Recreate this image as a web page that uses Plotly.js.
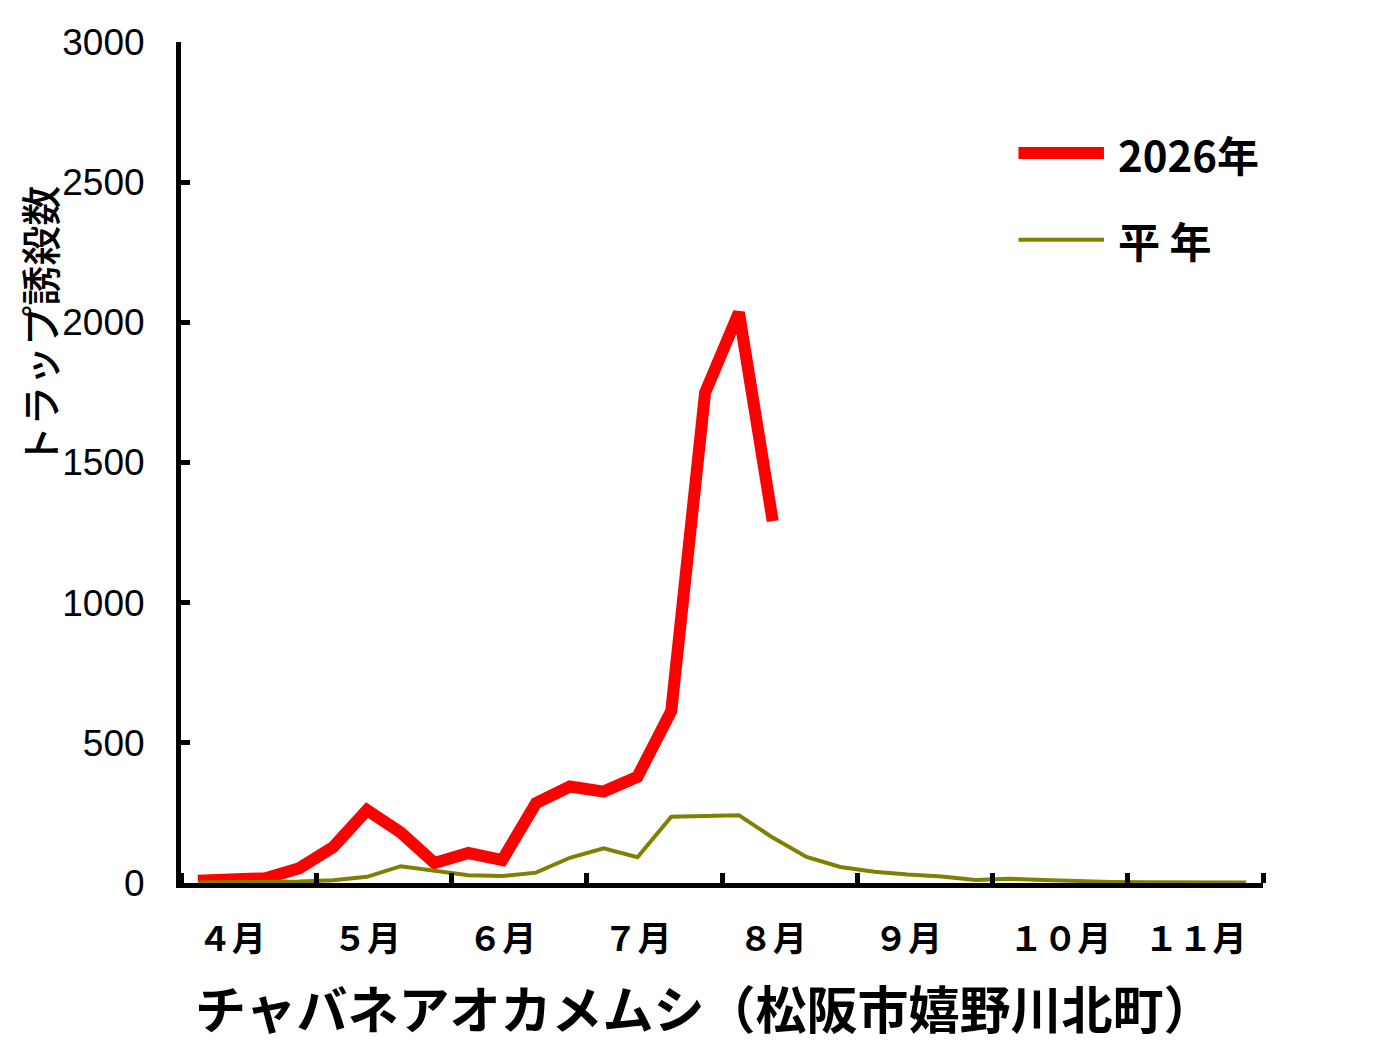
<!DOCTYPE html>
<html>
<head>
<meta charset="utf-8">
<script src="https://cdn.plot.ly/plotly-3.0.1.min.js"></script>
<style>
  html, body { margin: 0; padding: 0; background: #fff; }
  #chart1 { width: 1378px; height: 1064px; }
</style>
</head>
<body>
<div id="chart1"></div>
<script>
// 4 points per month, April .. November
var weeks = [0, 1, 2, 3, 4, 5, 6, 7, 8, 9, 10, 11, 12, 13, 14, 15,
             16, 17, 18, 19, 20, 21, 22, 23, 24, 25, 26, 27, 28, 29, 30, 31];
var monthPos = [1.5, 5.5, 9.5, 13.5, 17.5, 21.5, 25.5, 29.5];
var monthLabels = ["４月\u3000", "５月\u3000", "６月\u3000", "７月\u3000", "８月\u3000", "９月\u3000", "１０月", "１１月"];

var count2026 = [8, 11, 17, 53, 128, 260, 180, 71, 107, 82, 285, 344, 326, 379, 614, 1749, 2035, 1291];
var countAvg = [2, 3, 4, 5, 10, 22, 60, 44, 28, 25, 37, 90, 124, 92, 236, 239,
                242, 162, 93, 57, 40, 30, 23, 11, 15, 11, 7, 4, 3, 3, 3, 2];

var seriesNames = ["2026年", "平年"];
var seriesColors = ["#ff0000", "#808000"];

var jp = "Noto Sans CJK JP, sans-serif";

var chartData = [{
    x: weeks.slice(0, count2026.length),
    y: count2026,
    name: seriesNames[0],
    mode: "lines",
    line: {color: seriesColors[0], width: 12}
}, {
    x: weeks,
    y: countAvg,
    name: seriesNames[1],
    mode: "lines",
    line: {color: seriesColors[1], width: 4}
}];

var chartLayout = {
    width: 1378,
    height: 1064,
    margin: {l: 181, r: 115, t: 42, b: 181},
    paper_bgcolor: "#fff",
    plot_bgcolor: "#fff",
    showlegend: false,
    xaxis: {
        range: [-0.5, 31.5],
        tickmode: "array",
        tickvals: monthPos,
        ticktext: monthLabels,
        ticks: "",
        showgrid: false,
        zeroline: false,
        showline: true,
        linecolor: "#000",
        linewidth: 5,
        ticklabelstandoff: 22,
        tickfont: {family: jp, size: 34, color: "#000", weight: "bold"},
        minor: {
            tick0: -0.5,
            dtick: 4,
            ticks: "inside",
            ticklen: 10,
            tickwidth: 5,
            tickcolor: "#000",
            showgrid: false
        }
    },
    yaxis: {
        range: [0, 3000],
        dtick: 500,
        ticks: "inside",
        ticklen: 9,
        tickwidth: 5,
        tickcolor: "#000",
        showgrid: false,
        zeroline: false,
        showline: true,
        linecolor: "#000",
        linewidth: 5,
        ticklabelstandoff: 24,
        tickfont: {family: "Liberation Sans, Arial, sans-serif", size: 37, color: "#000"}
    },
    annotations: [{
        text: "チャバネアオカメムシ（松阪市嬉野川北町）",
        xref: "paper", yref: "paper",
        x: 0.484, y: -0.147,
        xanchor: "center", yanchor: "middle",
        showarrow: false,
        font: {family: jp, size: 51, color: "#000", weight: "bold"}
    }, {
        text: "トラップ誘殺数",
        textangle: -90,
        xref: "paper", yref: "paper",
        x: -0.131, y: 0.663,
        xanchor: "center", yanchor: "middle",
        showarrow: false,
        font: {family: jp, size: 40, color: "#000", weight: 500}
    }, {
        text: seriesNames[0],
        xref: "paper", yref: "paper",
        x: 0.864, y: 0.868,
        xanchor: "left", yanchor: "middle",
        showarrow: false,
        font: {family: jp, size: 42, color: "#000", weight: "bold"}
    }, {
        text: "平 年",
        xref: "paper", yref: "paper",
        x: 0.864, y: 0.765,
        xanchor: "left", yanchor: "middle",
        showarrow: false,
        font: {family: jp, size: 42, color: "#000", weight: "bold"}
    }],
    shapes: [{
        type: "line", xref: "paper", yref: "paper",
        x0: 0.774, x1: 0.853, y0: 0.868, y1: 0.868,
        line: {color: seriesColors[0], width: 12}
    }, {
        type: "line", xref: "paper", yref: "paper",
        x0: 0.774, x1: 0.853, y0: 0.765, y1: 0.765,
        line: {color: seriesColors[1], width: 4}
    }]
};

var chartConfig = {
    displayModeBar: false,
    staticPlot: true
};

Plotly.newPlot("chart1", chartData, chartLayout, chartConfig);
</script>
</body>
</html>
